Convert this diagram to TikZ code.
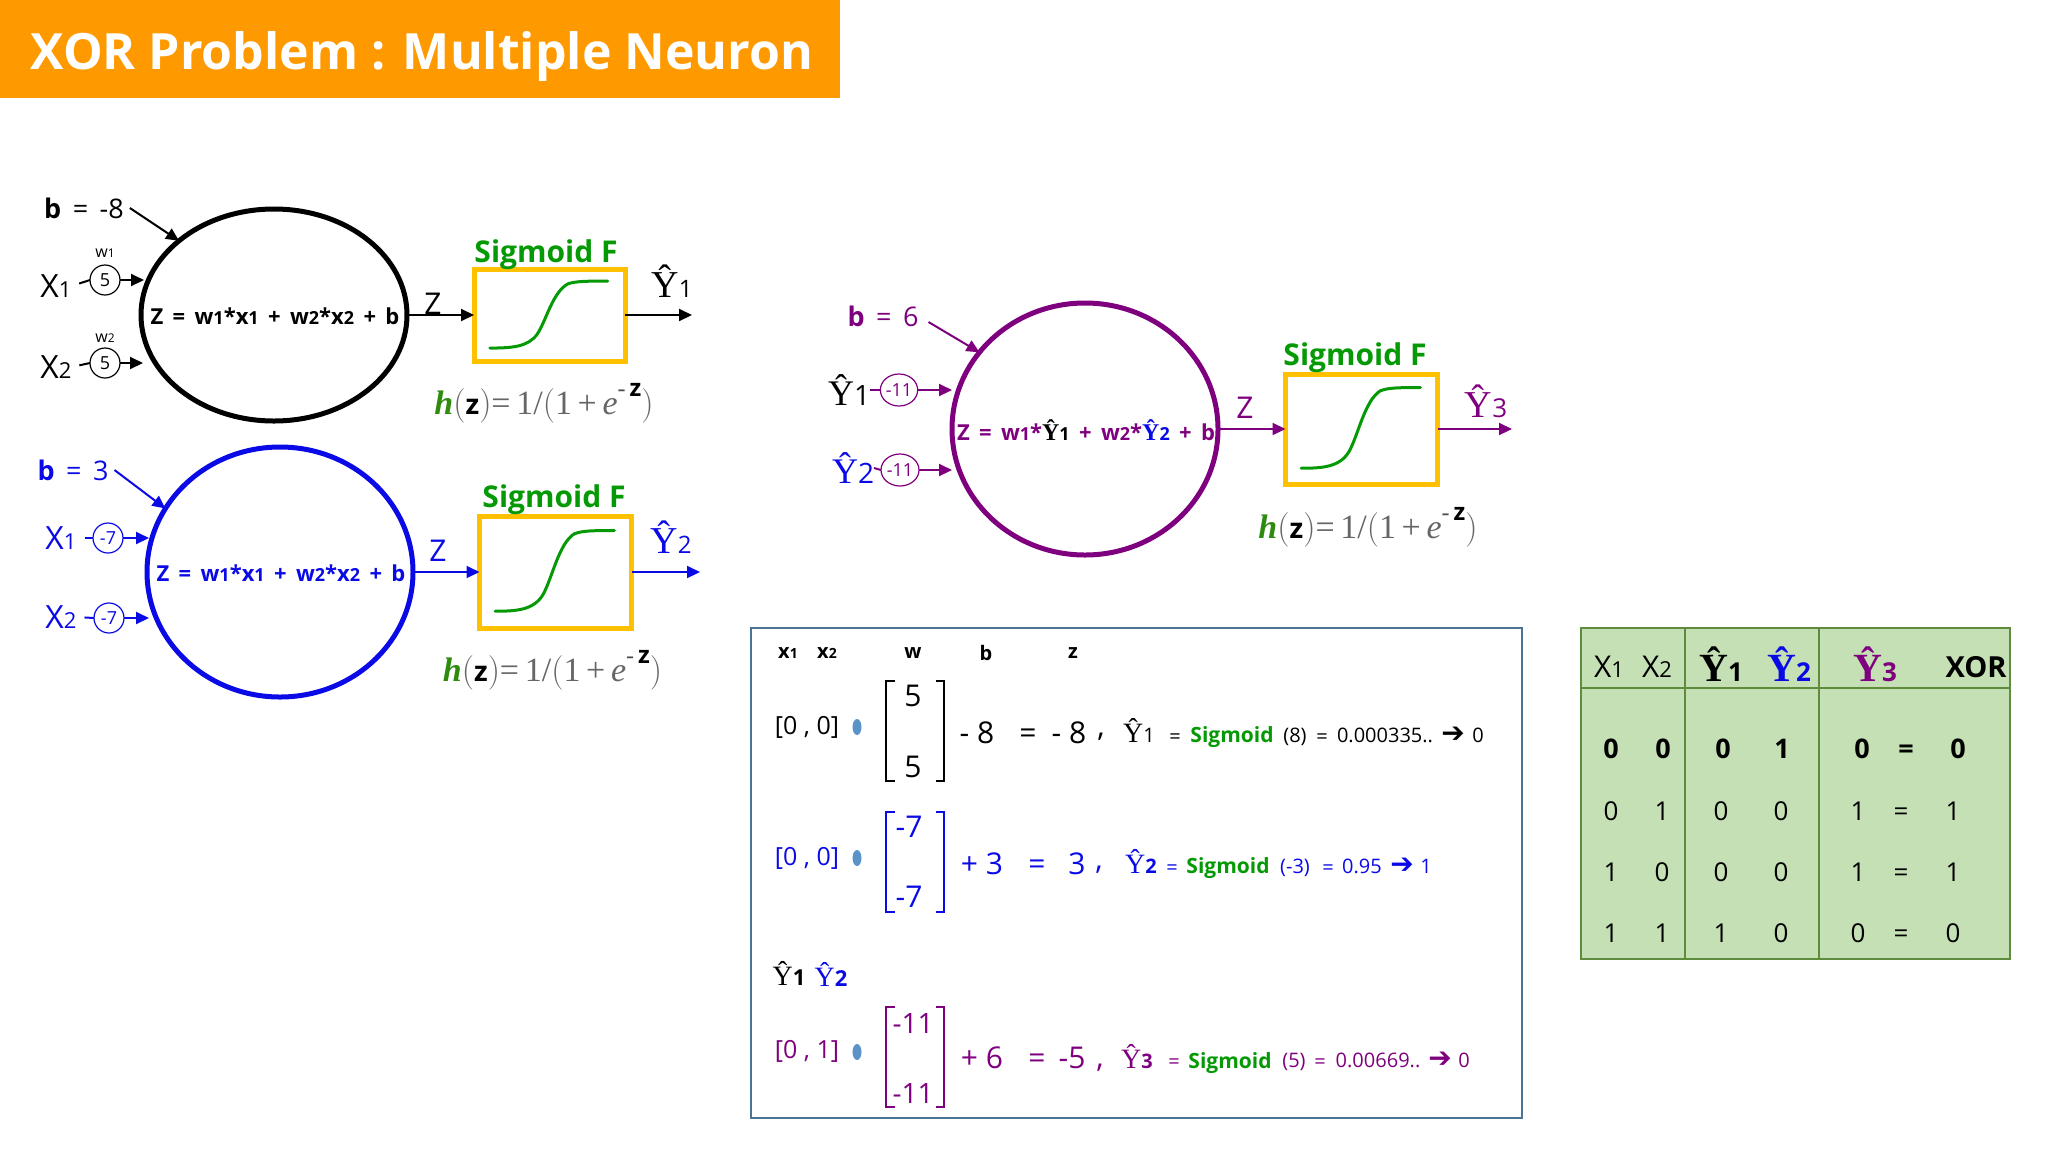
\documentclass[tikz,border=0pt]{standalone}
\usepackage{fontspec}
\usetikzlibrary{shapes.geometric,arrows.meta,calc}
\setmainfont{Open Sans}
\newfontfamily\yf{Liberation Serif}
\newfontfamily\hf{Liberation Serif}
\newfontfamily\df{DejaVu Sans}
\definecolor{orangeT}{HTML}{FF9900}
\definecolor{gr}{HTML}{059A05}
\definecolor{hg}{HTML}{2E8B0E}
\definecolor{bl}{HTML}{0A0AE6}
\definecolor{pu}{HTML}{7F007F}
\definecolor{boxo}{HTML}{FFC000}
\definecolor{panel}{HTML}{4A7396}
\definecolor{tf}{HTML}{C5E0B4}
\definecolor{tl}{HTML}{5F8B3C}
\definecolor{dot}{HTML}{5B93C8}
\newcommand\sz[1]{\fontsize{#1}{#1}\selectfont}
% hat-Y with index: size, index size, index
\newcommand\Yh[3]{{\yf\sz{#1}Ŷ}{\sz{#2}#3}}
\newcommand\Ym[3]{{\yf\sz{#1}Ŷ}{\bfseries\sz{#2}#3}}
\newcommand\Yb[3]{{\yf\bfseries\sz{#1}Ŷ}{\bfseries\sz{#2}#3}}
\newcommand\Xs[3]{\sz{#1}X{\sz{#2}#3}}
\newcommand\arr{{\df\bfseries\sz{14}➔}}
\newcommand\eqn{\vphantom{0}=}
\newcommand\hform{{\hf\sz{17}{\color{hg}\bfseries\itshape h}\textcolor{black!60}{$\Bigl($}{\fontspec{Open Sans}\bfseries\sz{14}z}\textcolor{black!60}{$\Bigr)$=\,1/$\Bigl($1\,+\,{\itshape e}}\raisebox{1.2ex}{\sz{12}\textcolor{black!70}{-}\,\fontspec{Open Sans}\bfseries\sz{12}z}\textcolor{black!60}{$\Bigr)$}}}
\newcommand\sigc[4]{\begin{scope}[shift={(#1,#2)},x={#3*0.5pt},y={-#4*0.5pt}]
\draw[gr,line width=1.5pt,line cap=round] (.11,.85) .. controls (.25,.85) and (.36,.84) .. (.42,.70) .. controls (.48,.55) and (.52,.25) .. (.62,.16) .. controls (.67,.13) and (.75,.13) .. (.88,.13);
\end{scope}}
\newcommand\brk[5]{\draw[#1,line width=.9pt] (#2+9,#4) -- (#2,#4) -- (#2,#5) -- (#2+9,#5);\draw[#1,line width=.9pt] (#3-8,#4) -- (#3,#4) -- (#3,#5) -- (#3-8,#5);}
\newcommand\zform{Z\, = \,w{\sz{9}1}*x{\sz{9}1}\, + \,w{\sz{9}2}*x{\sz{9}2}\, + \,b}
\tikzset{
 txt/.style={inner sep=0pt,outer sep=0pt,text depth=0pt},
 neuron/.style={draw,ellipse,line width=2.5pt,inner sep=0pt,outer sep=0pt,minimum width=133pt},
 sbox/.style={draw=boxo,line width=2.5pt,inner sep=0pt,outer sep=0pt},
 wt/.style={draw,ellipse,line width=.6pt,inner sep=0pt,outer sep=0pt,minimum width=15pt,minimum height=15pt,font=\sz{9}},
 conn/.style={line width=1pt,-{Triangle[length=6.5pt,width=6pt]}},
 plain/.style={line width=1pt},
 sg/.style={txt,text=gr,font=\bfseries\sz{15}},
 nt/.style={txt,font=\bfseries\sz{10}},
 tc/.style={txt,font=\sz{13}},
 tb/.style={txt,font=\bfseries\sz{13.5}},
 rw/.style={txt,font=\sz{15}},
 rs/.style={txt,font=\sz{10}},
 dotn/.style={ellipse,fill=dot,inner sep=0pt,outer sep=0pt,minimum width=4.5pt,minimum height=8pt},
}
\begin{document}
\begin{tikzpicture}[x=0.5pt,y=-0.5pt]
\useasboundingbox (0,0) rectangle (2048,1152);
% title
\node[fill=orangeT,anchor=north west,minimum width=420pt,minimum height=49pt,inner sep=0pt,outer sep=0pt] (banner) at (0,0) {};
\node[txt,text=white,font=\sz{25}\bfseries] (title) at (422,50) {XOR Problem : Multiple Neuron};
% neuron 1
\node[neuron,minimum height=106pt] (n1) at (274,315) {};
\node[txt,font=\bfseries\sz{11}] (n1t) at (275,316) {\zform};
\node[txt,font=\sz{13.5}] (b1) at (84,208) {\textbf{b}\, =\, -8};
\draw[conn] ([xshift=3pt]b1.east) -- (n1.142);
\node[txt] (x11) at (56,286) {\Xs{16}{11}{1}};
\node[txt] (x12) at (56,367) {\Xs{16}{11}{2}};
\node[txt,font=\sz{8}] (lw1) at (105,253) {w{\sz{6}1}};
\node[txt,font=\sz{8}] (lw2) at (105,338) {w{\sz{6}2}};
\node[wt] (w11) at (105,280) {5};
\node[wt] (w12) at (105,363) {5};
\draw[plain,shorten <=4pt] (x11.east) -- (w11.west);
\draw[plain,shorten <=4pt] (x12.east) -- (w12.west);
\draw[conn,shorten >=-1.5pt] (w11.east) -- (w11.east -| n1.west);
\draw[conn,shorten >=-1pt] (w12.east) -- (w12.east -| n1.west);
\node[sbox,minimum width=75.5pt,minimum height=46pt] (s1) at (549.5,315) {};
\sigc{473}{269}{153}{93}
\draw[conn] (n1.east) -- (s1.west);
\node[txt,font=\sz{15}] (z1) at (433,304) {Z};
\node[sg] (sf1) at (546,251) {Sigmoid F};
\coordinate (o1) at (692,315);
\draw[conn] (s1.east) -- (o1);
\node[txt] (y1) at (672,281) {\Yh{19}{12}{1}};
\node[txt] (h1) at (544,399) {\hform};
% neuron 2
\begin{scope}[bl]
\node[neuron,draw=bl,minimum height=125pt] (n2) at (280,572) {};
\node[txt,text=bl,font=\bfseries\sz{11}] (n2t) at (281,573) {\zform};
\node[txt,text=bl,font=\sz{13.5}] (b2) at (73,470) {\textbf{b}\, =\, 3};
\draw[conn] ([xshift=3pt]b2.east) -- (n2.151);
\node[txt,text=bl] (x21) at (61,538) {\Xs{16}{11}{1}};
\node[txt,text=bl] (x22) at (61,617) {\Xs{16}{11}{2}};
\node[wt,text=bl] (w21) at (108,538) {-7};
\node[wt,text=bl] (w22) at (109,618) {-7};
\draw[plain,shorten <=4pt] (x21.east) -- (w21.west);
\draw[plain,shorten <=4pt] (x22.east) -- (w22.west);
\draw[conn,shorten >=-1pt] (w21.east) -- (w21.east -| n2.west);
\draw[conn,shorten >=-1pt] (w22.east) -- (w22.east -| n2.west);
\node[sbox,minimum width=76pt,minimum height=56pt] (s2) at (555.5,572) {};
\sigc{478}{516}{155}{112}
\draw[conn] (n2.east) -- (s2.west);
\node[txt,text=bl,font=\sz{15}] (z2) at (438,551) {Z};
\node[sg] (sf2) at (554,496) {Sigmoid F};
\coordinate (o2) at (700,572);
\draw[conn] (s2.east) -- (o2);
\node[txt,text=bl] (y2) at (671,537) {\Yh{19}{12}{2}};
\node[txt,text=black] (h2) at (552.5,666) {\hform};
\end{scope}
% neuron 3
\begin{scope}[pu]
\node[neuron,draw=pu,minimum height=126pt] (n3) at (1085,429) {};
\node[txt,text=pu,font=\bfseries\sz{11}] (n3t) at (1086,430) {Z\, = \,w{\sz{9}1}*{\color{black}\Ym{12}{9}{1}}\, + \,w{\sz{9}2}*{\color{bl}\Ym{12}{9}{2}}\, + \,b};
\node[txt,text=pu,font=\sz{13.5}] (b3) at (883,316) {\textbf{b}\, =\, 6};
\draw[conn] ([xshift=5pt,yshift=-3pt]b3.east) -- (n3.144);
\node[txt,text=black] (y31) at (849,390) {\Yh{18}{14}{1}};
\node[txt,text=bl] (y32) at (853,468) {\Yh{18}{14}{2}};
\node[wt,text=pu,minimum width=18pt,minimum height=16pt,font=\sz{9}] (w31) at (899,390) {-11};
\node[wt,text=pu,minimum width=19pt,minimum height=16pt,font=\sz{9}] (w32) at (900,470) {-11};
\draw[plain] (y31.east) -- (w31.west);
\draw[plain] (y32.east) -- (w32.west);
\draw[conn] (w31.east) -- (w31.east -| n3.west);
\draw[conn] (w32.east) -- (w32.east -| n3.west);
\node[sbox,minimum width=76pt,minimum height=55pt] (s3) at (1361.5,429) {};
\sigc{1284}{373}{155}{112}
\draw[conn] (n3.east) -- (s3.west);
\node[txt,text=pu,font=\sz{15}] (z3) at (1245,408) {Z};
\node[sg] (sf3) at (1355,354) {Sigmoid F};
\coordinate (o3) at (1512,429);
\draw[conn] (s3.east) -- (o3);
\node[txt,text=pu] (y3) at (1486,401) {\Yh{19}{13}{3}};
\node[txt,text=black] (h3) at (1368,523) {\hform};
\end{scope}
% panel
\node[draw=panel,line width=1.2pt,minimum width=385.5pt,minimum height=245pt,inner sep=0pt,outer sep=0pt] (panel) at (1136.5,873) {};
\foreach \nm/\x/\t in {hx1/788/x{\sz{7}1},hx2/827/x{\sz{7}2},hw/913/w,hb/986/b,hz/1073/z}
  \node[nt] (\nm) at (\x,653) {\t};
% row 1
\node[txt,font=\sz{12.5}] (r1v) at (807,725) {[0 , 0]};
\node[dotn] (r1d) at (857,727) {};
\brk{black}{886}{944}{681}{781}
\node[txt,font=\sz{15}] (r1a) at (913,696) {5};
\node[txt,font=\sz{15}] (r1b) at (913,767) {5};
\node[rw] (r1c) at (977,733) {- 8};
\node[rw] (r1e) at (1028,733) {\eqn};
\node[rw] (r1f) at (1069,733) {- 8};
\node[rw] (r1g) at (1101,735) {,};
\node[txt] (r1y) at (1139,730) {\Yh{14}{10}{1}};
\node[rs] (r1h) at (1175,736) {\eqn};
\node[rs,text=gr,font=\bfseries\sz{10.5}] (r1s) at (1232,735) {Sigmoid};
\node[rs] (r1i) at (1295,735) {(8)};
\node[rs] (r1j) at (1322,736) {\eqn};
\node[rs] (r1k) at (1385,735) {0.000335..};
\node[rs] (r1l) at (1453,735) {\arr};
\node[rs] (r1m) at (1478,735) {0};
% row 2
\begin{scope}[bl]
\node[txt,text=bl,font=\sz{12.5}] (r2v) at (807,856) {[0 , 0]};
\node[dotn] (r2d) at (857,858) {};
\brk{bl}{886}{944}{812}{912}
\node[txt,text=bl,font=\sz{15}] (r2a) at (909,827) {-7};
\node[txt,text=bl,font=\sz{15}] (r2b) at (909,897) {-7};
\node[rw,text=bl] (r2c) at (982,864) {+ 3};
\node[rw,text=bl] (r2e) at (1037,864) {\eqn};
\node[rw,text=bl] (r2f) at (1077,864) {3};
\node[rw,text=bl] (r2g) at (1099,868) {,};
\node[txt,text=bl] (r2y) at (1141,861) {\Ym{14}{10}{2}};
\node[rs,text=bl] (r2h) at (1172,867) {\eqn};
\node[rs,text=gr,font=\bfseries\sz{10.5}] (r2s) at (1228,866) {Sigmoid};
\node[rs,text=bl] (r2i) at (1295,866) {(-3)};
\node[rs,text=bl] (r2j) at (1328,867) {\eqn};
\node[rs,text=bl] (r2k) at (1362,866) {0.95};
\node[rs,text=bl] (r2l) at (1402,866) {\arr};
\node[rs,text=bl] (r2m) at (1426,866) {1};
\end{scope}
% row 3
\node[txt] (r3p) at (789,973) {\Ym{14}{11}{1}};
\node[txt,text=bl] (r3q) at (831,974) {\Ym{14}{11}{2}};
\node[txt,text=pu,font=\sz{12.5}] (r3v) at (807,1049) {[0 , 1]};
\node[dotn] (r3d) at (857,1052) {};
\brk{pu}{886}{944}{1007}{1107}
\node[txt,text=pu,font=\sz{14}] (r3a) at (913,1023) {-11};
\node[txt,text=pu,font=\sz{14}] (r3b) at (913,1093) {-11};
\node[rw,text=pu] (r3c) at (982,1058) {+ 6};
\node[rw,text=pu] (r3e) at (1037,1058) {\eqn};
\node[rw,text=pu] (r3f) at (1072,1058) {-5};
\node[rw,text=pu] (r3g) at (1100,1066) {,};
\node[txt,text=pu] (r3y) at (1137,1056) {\Ym{14}{10}{3}};
\node[rs,text=pu] (r3h) at (1174,1061) {\eqn};
\node[rs,text=gr,font=\bfseries\sz{10.5}] (r3s) at (1230,1060) {Sigmoid};
\node[rs,text=pu] (r3i) at (1294,1060) {(5)};
\node[rs,text=pu] (r3j) at (1320,1061) {\eqn};
\node[rs,text=pu] (r3k) at (1378,1060) {0.00669..};
\node[rs,text=pu] (r3l) at (1440,1060) {\arr};
\node[rs,text=pu] (r3m) at (1464,1060) {0};
% table
\node[draw=tl,fill=tf,line width=1.3pt,minimum width=214.5pt,minimum height=165.5pt,inner sep=0pt,outer sep=0pt] (tab) at (1795.5,793.5) {};
\coordinate (hl) at (1581,688);
\draw[tl,line width=1pt] (tab.west |- hl) -- (tab.east |- hl);
\draw[tl,line width=1.1pt] (1685,628) coordinate (va) -- (1685,959);
\draw[tl,line width=1.1pt] (1819,628) coordinate (vb) -- (1819,959);
\node[txt] (tx1) at (1609,667) {\Xs{15}{11}{1}};
\node[txt] (tx2) at (1657,667) {\Xs{15}{11}{2}};
\node[txt] (ty1) at (1721,664) {\Yb{20}{13}{1}};
\node[txt,text=bl] (ty2) at (1789,664) {\Yb{20}{13}{2}};
\node[txt,text=pu] (ty3) at (1875,664) {\Yb{20}{13}{3}};
\node[txt,font=\bfseries\sz{14.5}] (txor) at (1976,667) {XOR};
\foreach \nm/\x/\t in {a1/1611/0,a2/1663/0,a3/1723/0,a4/1782/1,a5/1862/0,a6/1906/\eqn,a7/1958/0}
  \node[tb] (\nm) at (\x,749) {\t};
\foreach \nm/\x/\t in {b1c/1611/0,b2c/1662/1,b3c/1721/0,b4c/1781/0,b5c/1858/1,b6c/1901/\eqn,b7c/1953/1}
  \node[tc] (\nm) at (\x,811) {\t};
\foreach \nm/\x/\t in {c1c/1611/1,c2c/1662/0,c3c/1721/0,c4c/1781/0,c5c/1858/1,c6c/1901/\eqn,c7c/1953/1}
  \node[tc] (\nm) at (\x,872) {\t};
\foreach \nm/\x/\t in {d1c/1611/1,d2c/1662/1,d3c/1721/1,d4c/1781/0,d5c/1858/0,d6c/1901/\eqn,d7c/1953/0}
  \node[tc] (\nm) at (\x,933) {\t};
\end{tikzpicture}
\end{document}
